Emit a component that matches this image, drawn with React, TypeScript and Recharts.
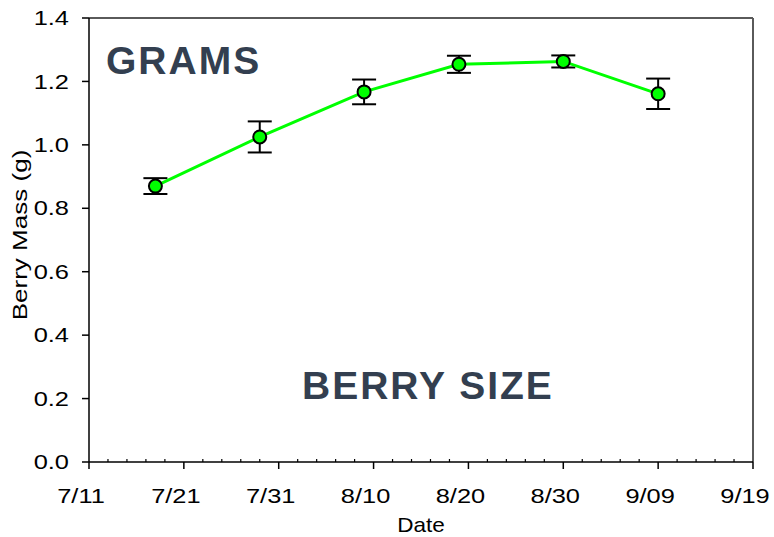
import React from 'react';
import { LineChart, Line, XAxis, YAxis, ErrorBar, ReferenceLine, Customized } from 'recharts';

const sampleDates = ['7/18', '7/29', '8/9', '8/19', '8/30', '9/9'];
const sampleDays = [7, 18, 29, 39, 50, 60]; // days after 7/11
const berryMass = [0.87, 1.025, 1.167, 1.254, 1.263, 1.161];
const massError = [0.025, 0.049, 0.039, 0.027, 0.019, 0.048];

const xMajorLabels = ['7/11', '7/21', '7/31', '8/10', '8/20', '8/30', '9/09', '9/19'];
const xTickDays = Array.from({ length: 36 }, (_, i) => i * 2);
const yTicks = [0, 0.2, 0.4, 0.6, 0.8, 1.0, 1.2, 1.4];

const data = sampleDays.map((d, i) => ({
  day: d,
  date: sampleDates[i],
  mass: berryMass[i],
  err: massError[i],
}));

const FONT = '"Liberation Sans", Arial, sans-serif';
const STRETCH = 1.27;

const XTick = (props: any) => {
  const { x, y, payload } = props;
  const v = payload.value;
  if (v % 10 === 0) {
    const label = xMajorLabels[v / 10];
    return (
      <g>
        <line x1={x} y1={y} x2={x} y2={y + 7} stroke="#000" strokeWidth={1.5} />
        <g transform={`translate(${x - 8}, ${y + 41}) scale(${STRETCH}, 1)`}>
          <text x={0} y={0} textAnchor="middle" fontSize={20} fontFamily={FONT} fill="#000">
            {label}
          </text>
        </g>
      </g>
    );
  }
  return <line x1={x} y1={y} x2={x} y2={y - 3} stroke="#000" strokeWidth={1.2} />;
};

const YTick = (props: any) => {
  const { x, y, payload } = props;
  return (
    <g transform={`translate(${x}, ${y}) scale(${STRETCH}, 1)`}>
      <text x={0} y={0} dy="0.355em" textAnchor="end" fontSize={20} fontFamily={FONT} fill="#000">
        {Number(payload.value).toFixed(1)}
      </text>
    </g>
  );
};

const Annotations = () => (
  <g>
    <text x={106} y={74} fontSize={39} fontWeight="bold" fontFamily={FONT} fill="#333f50" letterSpacing={2}>
      GRAMS
    </text>
    <text x={302} y={399} fontSize={39} fontWeight="bold" fontFamily={FONT} fill="#333f50" letterSpacing={2}>
      BERRY SIZE
    </text>
  </g>
);

export default function App() {
  return (
    <div style={{ position: 'absolute', left: 0, top: 0, background: '#fff' }}>
      <LineChart
        width={774}
        height={537}
        data={data}
        margin={{ top: 18, right: 21, left: 0, bottom: 0 }}
      >
        <XAxis
          dataKey="day"
          type="number"
          domain={[0, 70]}
          ticks={xTickDays}
          interval={0}
          tick={<XTick />}
          tickLine={false}
          tickSize={0}
          tickMargin={0}
          axisLine={{ stroke: '#000', strokeWidth: 1.5 }}
          height={75}
          label={{
            content: (p: any) => {
              const vb = p.viewBox;
              const cx = vb.x + vb.width / 2;
              return (
                <g transform={`translate(${cx}, 532) scale(1.1, 1)`}>
                  <text x={0} y={0} textAnchor="middle" fontSize={20.5} fontFamily={FONT} fill="#000">
                    Date
                  </text>
                </g>
              );
            },
          }}
        />
        <YAxis
          type="number"
          domain={[0, 1.4]}
          ticks={yTicks}
          interval={0}
          width={89}
          tickSize={7}
          tickMargin={13}
          tick={<YTick />}
          tickLine={{ stroke: '#000', strokeWidth: 1.5 }}
          axisLine={{ stroke: '#000', strokeWidth: 1.5 }}
          label={{
            content: () => {
              const cy = 235;
              return (
                <g transform={`translate(27, ${cy}) rotate(-90) scale(${STRETCH}, 1)`}>
                  <text x={0} y={0} textAnchor="middle" fontSize={20.5} fontFamily={FONT} fill="#000">
                    Berry Mass (g)
                  </text>
                </g>
              );
            },
          }}
        />
        <ReferenceLine y={1.4} stroke="#5a5a5a" strokeWidth={2} />
        <ReferenceLine x={70} stroke="#5a5a5a" strokeWidth={2} />
        <Line
          type="linear"
          dataKey="mass"
          stroke="#00ff00"
          strokeWidth={3}
          isAnimationActive={false}
          dot={{ r: 6.5, fill: '#00ff00', stroke: '#000', strokeWidth: 2 }}
        >
          <ErrorBar dataKey="err" direction="y" width={12} stroke="#000" strokeWidth={2} />
        </Line>
        <Customized component={Annotations} />
      </LineChart>
    </div>
  );
}
